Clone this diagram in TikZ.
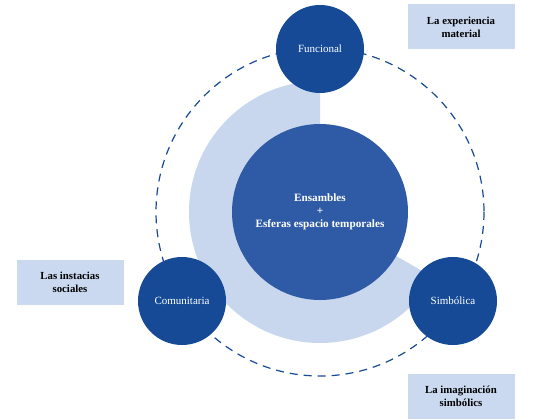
\documentclass[tikz,border=0pt]{standalone}
\usepackage{fontspec}
\setmainfont{Liberation Serif}
\definecolor{darkblue}{HTML}{164A97}
\definecolor{midblue}{HTML}{2F5BA6}
\definecolor{lightblue}{HTML}{C8D7EE}
\definecolor{boxblue}{HTML}{CAD9F0}
\begin{document}
\begin{tikzpicture}[x=1pt,y=-1pt,
  outer/.style={circle,fill=darkblue,minimum size=88pt,inner sep=0pt,text=white,font=\fontsize{11}{13}\selectfont},
  core/.style={circle,fill=midblue,minimum size=176pt,inner sep=0pt,text=white,align=center,font=\fontsize{11.2}{13}\selectfont\bfseries},
  labelbox/.style={fill=boxblue,minimum width=107pt,minimum height=45pt,inner sep=0pt,align=center,font=\fontsize{10.8}{13}\selectfont\bfseries,text=black},
  ring/.style={draw=darkblue,line width=1.2pt,dash pattern=on 8pt off 6pt}]
\useasboundingbox (0,0) rectangle (541,420);
\fill[white] (0,0) rectangle (541,420);
\coordinate (c) at (320,212);
% light sector from screen-top counterclockwise to 30 deg below horizontal right
\fill[lightblue] (c) -- ++(0,-131) arc[start angle=-90,end angle=-330,radius=131] -- cycle;
\draw[ring] (c) circle[radius=164];
\node[core] (center) at (c) {Ensambles\\+\\Esferas espacio temporales};
\node[outer] (fun) at (320,49) {Funcional};
\node[outer] (com) at (182,301) {Comunitaria};
\node[outer] (sim) at (453,301) {Simbólica};
\node[labelbox] (exp) at (461,27) {La experiencia\\material};
\node[labelbox] (soc) at (70,282) {Las instacias\\sociales};
\node[labelbox] (ima) at (461,396) {La imaginación\\simbólics};
\end{tikzpicture}
\end{document}
